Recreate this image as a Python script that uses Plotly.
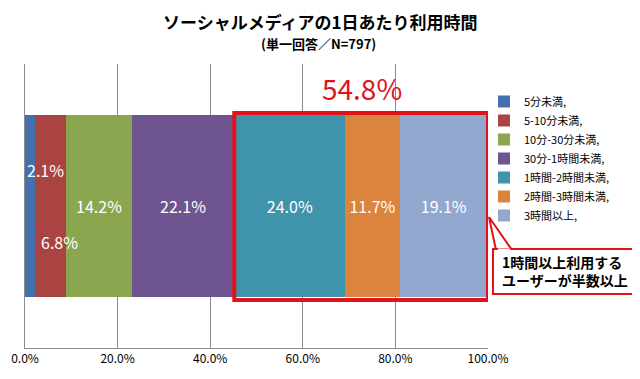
import plotly.graph_objects as go

categories = ["5分未満,", "5-10分未満,", "10分-30分未満,", "30分-1時間未満,",
              "1時間-2時間未満,", "2時間-3時間未満,", "3時間以上,"]
values = [2.1, 6.8, 14.2, 22.1, 24.0, 11.7, 19.1]
colors = ["#4470AE", "#A94442", "#8BA64F", "#6E5590", "#3F93AB", "#DB843D", "#93A8CF"]
tick_vals = [0, 20, 40, 60, 80, 100]
highlight_start = 4  # index of first category counted as "1時間以上"

FONT = "Noto Sans CJK JP"
OFF = 8  # default page body margin
W, H = 640 - OFF, 379 - OFF
# plot area in screen pixels
PX0, PX1, PY0, PY1 = 25, 488, 64, 348
L, R, T, B = PX0 - OFF, W - (PX1 - OFF), PY0 - OFF, H - (PY1 - OFF)
pw, ph = PX1 - PX0, PY1 - PY0


def px_x(p):
    return (p - PX0) / pw


def px_y(p):
    return (PY1 - p) / ph


fig = go.Figure()
for i, (c, v, col) in enumerate(zip(categories, values, colors)):
    show_inside = i >= 2
    fig.add_trace(go.Bar(
        x=[v], y=["all"], orientation="h", name=c,
        marker=dict(color=col, line=dict(width=0)),
        text=[f"{v:.1f}%"] if show_inside else None,
        textposition="inside" if show_inside else "none",
        insidetextanchor="middle",
        textfont=dict(color="white", size=16, family=FONT),
        hoverinfo="skip",
    ))

# labels for the narrow first two segments
cum = [sum(values[:i]) for i in range(len(values))]
fig.add_annotation(x=cum[0], y=0, xref="x", yref="y", text=f"{values[0]:.1f}%",
                   showarrow=False, xanchor="left", yanchor="middle", yshift=36,
                   font=dict(color="white", size=16, family=FONT))
fig.add_annotation(x=cum[1] + values[1] / 2, y=0, xref="x", yref="y", text=f"{values[1]:.1f}%",
                   showarrow=False, xanchor="center", yanchor="middle", yshift=-36, xshift=9,
                   font=dict(color="white", size=16, family=FONT))

hl_start = sum(values[:highlight_start])
hl_total = sum(values[highlight_start:])
red = "#E2121B"

# highlight box around the 1h+ segments
fig.add_shape(type="rect", xref="x", yref="paper", x0=hl_start, x1=hl_start + hl_total,
              y0=px_y(300), y1=px_y(113), line=dict(color=red, width=4),
              fillcolor="rgba(0,0,0,0)", layer="above")

# callout pointer and box
tip_x, tip_y = px_x(489), px_y(217)
b1x, b2x, by = px_x(496), px_x(512), px_y(250)
fig.add_shape(type="path", xref="paper", yref="paper",
              path=f"M {b1x} {by} L {tip_x} {tip_y} L {b2x} {by} Z",
              line=dict(color=red, width=2), fillcolor="white", layer="above")
fig.add_shape(type="rect", xref="paper", yref="paper",
              x0=px_x(493), x1=px_x(637), y0=px_y(294), y1=px_y(249),
              line=dict(color=red, width=2), fillcolor="white", layer="above")
fig.add_shape(type="line", xref="paper", yref="paper",
              x0=b1x + 0.004, x1=b2x - 0.004, y0=by, y1=by,
              line=dict(color="white", width=3), layer="above")
fig.add_annotation(x=px_x(565), y=px_y(271), xref="paper", yref="paper",
                   xanchor="center", yanchor="middle",
                   text="<b>1時間以上利用する<br>ユーザーが半数以上</b>", showarrow=False,
                   align="left", font=dict(color="black", size=14, family=FONT))

# total of highlighted share
fig.add_annotation(x=px_x(362), y=px_y(88), xref="paper", yref="paper",
                   xanchor="center", yanchor="middle",
                   text=f"{hl_total:.1f}%", showarrow=False,
                   font=dict(color=red, size=28, family=FONT))

# titles
fig.add_annotation(x=px_x(320), y=px_y(21), xref="paper", yref="paper",
                   xanchor="center", yanchor="middle",
                   text="<b>ソーシャルメディアの1日あたり利用時間</b>", showarrow=False,
                   font=dict(color="black", size=17, family=FONT))
fig.add_annotation(x=px_x(318), y=px_y(43), xref="paper", yref="paper",
                   xanchor="center", yanchor="middle",
                   text="<b>(単一回答／N=797)</b>", showarrow=False,
                   font=dict(color="black", size=13, family=FONT))

fig.update_layout(
    width=W, height=H, barmode="stack", bargap=0.36,
    margin=dict(l=L, r=R, t=T, b=B, pad=0, autoexpand=False),
    paper_bgcolor="white", plot_bgcolor="white",
    font=dict(family=FONT, color="black"),
    showlegend=True,
    legend=dict(x=px_x(484), y=px_y(87), xanchor="left", yanchor="top",
                traceorder="normal", font=dict(size=11, family=FONT, color="black"),
                itemwidth=30, tracegroupgap=0, bgcolor="rgba(0,0,0,0)"),
    xaxis=dict(range=[0, 100], tickvals=tick_vals,
               ticktext=[f"{t:.1f}%" for t in tick_vals],
               showgrid=True, gridcolor="#8C8C8C", gridwidth=1,
               showline=True, linecolor="#8C8C8C", linewidth=1,
               zeroline=False, ticks="", tickfont=dict(size=12, family=FONT)),
    yaxis=dict(showticklabels=False, showgrid=False, zeroline=False,
               showline=True, linecolor="#8C8C8C", linewidth=1, ticks=""),
)

fig.write_html("out.html")
